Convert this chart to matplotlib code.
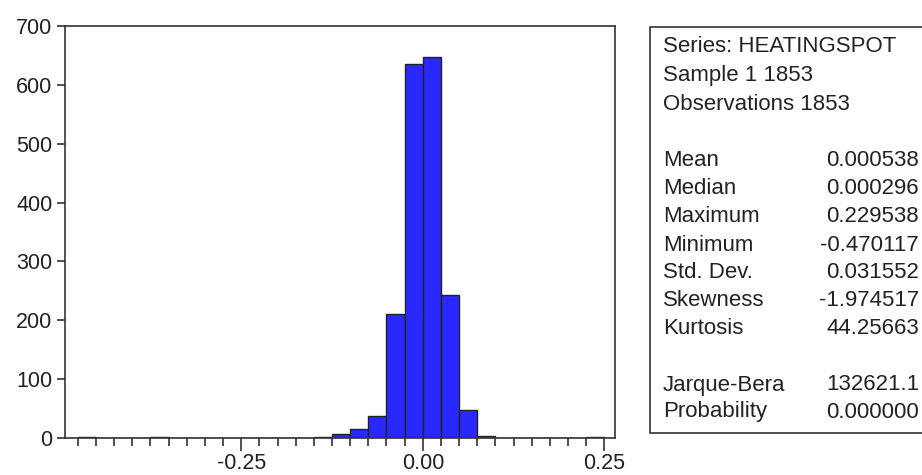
import numpy as np
import matplotlib.pyplot as plt
from matplotlib.patches import Rectangle

plt.rcParams['font.family'] = ['Liberation Sans', 'DejaVu Sans']

# histogram bins (width 0.025) and counts
bin_width = 0.025
bin_left = np.arange(-0.475, 0.25, bin_width)
counts = [1, 0, 0, 0, 1, 0, 0, 0, 0, 0, 0, 0, 0,
          2, 6, 15, 38, 211, 636, 647, 243, 48, 4,
          0, 0, 0, 0, 0, 1]

stat_names = ['Mean', 'Median', 'Maximum', 'Minimum', 'Std. Dev.',
              'Skewness', 'Kurtosis']
stat_values = ['0.000538', '0.000296', '0.229538', '-0.470117',
               '0.031552', '-1.974517', '44.25663']
test_names = ['Jarque-Bera', 'Probability']
test_values = ['132621.1', '0.000000']
header = ['Series: HEATINGSPOT', 'Sample 1 1853', 'Observations 1853']

W, H = 922, 475
fig = plt.figure(figsize=(W / 100, H / 100), dpi=100)
ax = fig.add_axes([65 / W, 1 - 438 / H, (615 - 65) / W, (438 - 26) / H])

ax.bar(bin_left[:len(counts)], counts, width=bin_width, align='edge',
       color='#2828ff', edgecolor='#222222', linewidth=1.0)

ax.set_xlim(-0.4925, 0.2645)
ax.set_ylim(0, 700)
ax.set_yticks(range(0, 701, 100))
ax.set_xticks([-0.25, 0.0, 0.25])
ax.set_xticklabels(['-0.25', '0.00', '0.25'])
ax.set_xticks(np.arange(-0.475, 0.2501, 0.025), minor=True)

dark = '#333333'
for s in ax.spines.values():
    s.set_color(dark)
    s.set_linewidth(1.2)
ax.tick_params(axis='y', length=6, width=1.2, color=dark, labelsize=15.5,
               labelcolor='#222222', pad=3)
ax.tick_params(axis='x', which='major', length=9, width=1.2, color=dark,
               labelsize=15.5, labelcolor='#222222', pad=2)
ax.tick_params(axis='x', which='minor', length=6, width=1.2, color=dark)

# statistics box at the right, cut off by the figure edge
box = Rectangle((650 / W, 1 - 433 / H), 0.5, (433 - 27) / H,
                transform=fig.transFigure, facecolor='white',
                edgecolor=dark, linewidth=1.2)
fig.patches.append(box)

x_left = 663 / W
x_right = 919 / W
fs = 16
for i, t in enumerate(header):
    fig.text(x_left, 1 - (47 + 29 * i) / H, t, fontsize=fs, va='center',
             color='#222222')
for i, (n, v) in enumerate(zip(stat_names, stat_values)):
    y = 1 - (161 + 28 * i) / H
    fig.text(x_left, y, n, fontsize=fs, va='center', color='#222222')
    fig.text(x_right, y, v, fontsize=fs, va='center', ha='right', color='#222222')
for i, (n, v) in enumerate(zip(test_names, test_values)):
    y = 1 - (385 + 27 * i) / H
    fig.text(x_left, y, n, fontsize=fs, va='center', color='#222222')
    fig.text(x_right, y, v, fontsize=fs, va='center', ha='right', color='#222222')

fig.savefig('out.png', dpi=100)
